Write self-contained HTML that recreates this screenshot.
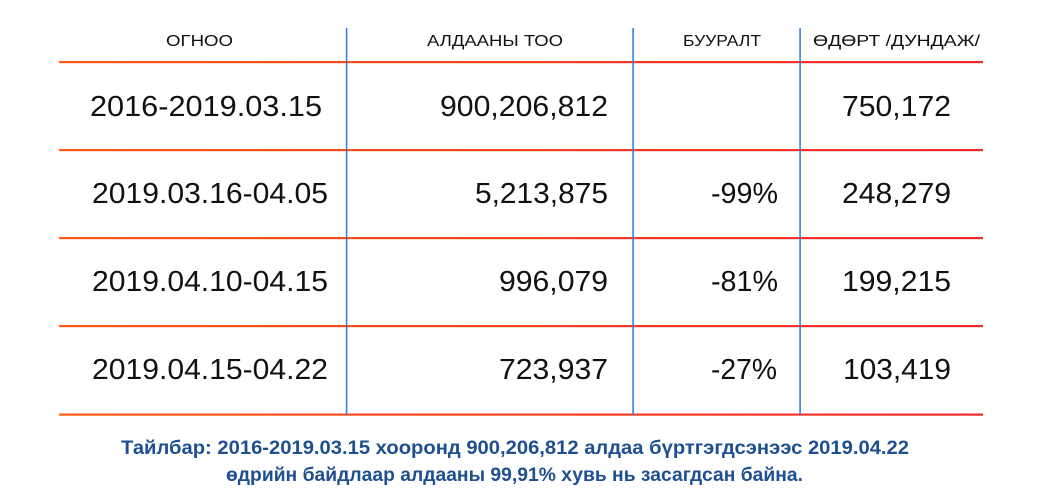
<!DOCTYPE html>
<html>
<head>
<meta charset="utf-8">
<style>
  html,body{margin:0;padding:0;background:#fff;}
  svg{display:block;}
  .h{font-family:"Liberation Sans",sans-serif;font-size:16px;fill:#111;}
  .d{font-family:"Liberation Sans",sans-serif;font-size:29px;fill:#111;}
  .n{font-family:"Liberation Sans",sans-serif;font-size:19.5px;fill:#1d4f91;font-weight:bold;}
</style>
</head>
<body>
<svg width="1040" height="500" viewBox="0 0 1040 500" xmlns="http://www.w3.org/2000/svg">
  <defs>
    <linearGradient id="g" x1="59" y1="0" x2="983" y2="0" gradientUnits="userSpaceOnUse">
      <stop offset="0" stop-color="#ff5a14"/>
      <stop offset="1" stop-color="#ee2a2c"/>
    </linearGradient>
  </defs>
  <rect width="1040" height="500" fill="#fff"/>

  <!-- horizontal lines -->
  <g fill="url(#g)">
    <rect x="59" y="61" width="924" height="2.2"/>
    <rect x="59" y="149" width="924" height="2.2"/>
    <rect x="59" y="237" width="924" height="2.2"/>
    <rect x="59" y="325" width="924" height="2.2"/>
    <rect x="59" y="413.5" width="924" height="2.2"/>
  </g>

  <!-- vertical lines -->
  <g fill="#3b7fd4">
    <rect x="345.8" y="28" width="1.6" height="387"/>
    <rect x="632.3" y="28" width="1.6" height="387"/>
    <rect x="799.3" y="28" width="1.6" height="387"/>
  </g>

  <!-- headers -->
  <text class="h" x="166" y="46" textLength="67" lengthAdjust="spacingAndGlyphs">ОГНОО</text>
  <text class="h" x="427" y="46" textLength="136" lengthAdjust="spacingAndGlyphs">АЛДААНЫ ТОО</text>
  <text class="h" x="683" y="46" textLength="78" lengthAdjust="spacingAndGlyphs">БУУРАЛТ</text>
  <text class="h" x="813" y="46" textLength="167" lengthAdjust="spacingAndGlyphs">ӨДӨРТ /ДУНДАЖ/</text>

  <!-- row 1 -->
  <text class="d" x="90" y="116" textLength="232" lengthAdjust="spacingAndGlyphs">2016-2019.03.15</text>
  <text class="d" x="440" y="116" textLength="168" lengthAdjust="spacingAndGlyphs">900,206,812</text>
  <text class="d" x="842" y="116" textLength="109" lengthAdjust="spacingAndGlyphs">750,172</text>

  <!-- row 2 -->
  <text class="d" x="92" y="203" textLength="236" lengthAdjust="spacingAndGlyphs">2019.03.16-04.05</text>
  <text class="d" x="475" y="203" textLength="133" lengthAdjust="spacingAndGlyphs">5,213,875</text>
  <text class="d" x="711" y="203" textLength="67" lengthAdjust="spacingAndGlyphs">-99%</text>
  <text class="d" x="842" y="203" textLength="109" lengthAdjust="spacingAndGlyphs">248,279</text>

  <!-- row 3 -->
  <text class="d" x="92" y="291" textLength="236" lengthAdjust="spacingAndGlyphs">2019.04.10-04.15</text>
  <text class="d" x="499" y="291" textLength="109" lengthAdjust="spacingAndGlyphs">996,079</text>
  <text class="d" x="711" y="291" textLength="67" lengthAdjust="spacingAndGlyphs">-81%</text>
  <text class="d" x="842" y="291" textLength="109" lengthAdjust="spacingAndGlyphs">199,215</text>

  <!-- row 4 -->
  <text class="d" x="92" y="379" textLength="236" lengthAdjust="spacingAndGlyphs">2019.04.15-04.22</text>
  <text class="d" x="499" y="379" textLength="109" lengthAdjust="spacingAndGlyphs">723,937</text>
  <text class="d" x="711" y="379" textLength="66" lengthAdjust="spacingAndGlyphs">-27%</text>
  <text class="d" x="843" y="379" textLength="108" lengthAdjust="spacingAndGlyphs">103,419</text>

  <!-- note -->
  <text class="n" x="121" y="454" textLength="788" lengthAdjust="spacingAndGlyphs">Тайлбар: 2016-2019.03.15 хооронд 900,206,812 алдаа бүртгэгдсэнээс 2019.04.22</text>
  <text class="n" x="226" y="481" textLength="577" lengthAdjust="spacingAndGlyphs">өдрийн байдлаар алдааны 99,91% хувь нь засагдсан байна.</text>
</svg>
</body>
</html>
